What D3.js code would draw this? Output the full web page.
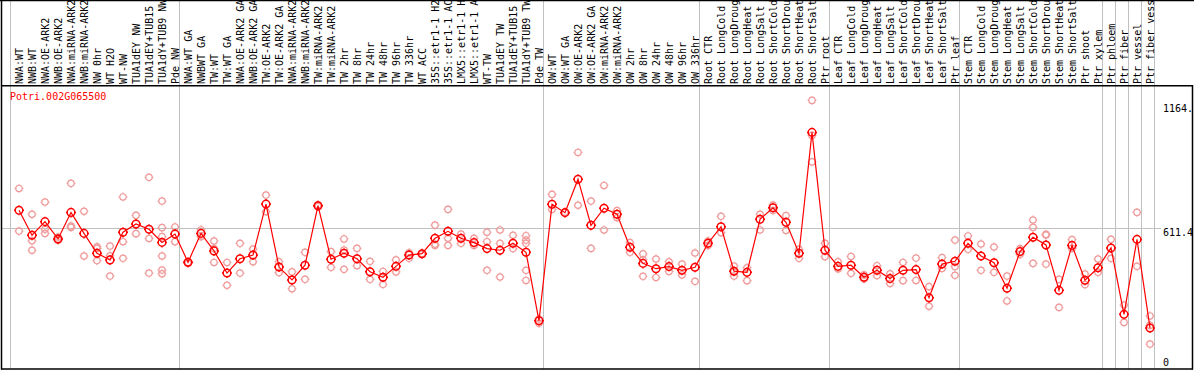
<!DOCTYPE html>
<html>
<head>
<meta charset="utf-8">
<script src="https://cdn.jsdelivr.net/npm/d3@7"></script>
<style>
  html, body { margin: 0; padding: 0; background: #fff; }
  svg { display: block; }
  text { font-family: "DejaVu Sans Mono", monospace; font-size: 10px; }
</style>
</head>
<body>
<div id="chart"></div>
<script>
'use strict';

// ---------- data ---------- //
var gene = 'Potri.002G065500';

var samples = [
  'NWA:WT', 'NWB:WT', 'NWA:OE-ARK2', 'NWB:OE-ARK2', 'NWA:miRNA-ARK2', 'NWB:miRNA-ARK2',
  'NW 0hr', 'WT H2O', 'WT-NW', 'TUA1dEY NW', 'TUA1dEY+TUB15 NW', 'TUA1dY+TUB9 NW', 'Pde NW',
  'NWA:WT GA', 'NWBWT GA', 'TW:WT', 'TW:WT GA', 'NWA:OE-ARK2 GA', 'NWB:OE-ARK2 GA',
  'TW:OE-ARK2', 'TW:OE-ARK2 GA', 'NWA:miRNA-ARK2 GA', 'NWB:miRNA-ARK2 GA', 'TW:miRNA-ARK2',
  'TW:miRNA-ARK2 GA', 'TW 2hr', 'TW 8hr', 'TW 24hr', 'TW 48hr', 'TW 96hr', 'TW 336hr', 'WT ACC',
  '35S::etr1-1 H2O', '35S::etr1-1 ACC', 'LMX5::etr1-1 H2O', 'LMX5::etr1-1 ACC', 'WT-TW',
  'TUA1dEY TW', 'TUA1dEY+TUB15 TW', 'TUA1dY+TUB9 TW', 'Pde TW',
  'OW:WT', 'OW:WT GA', 'OW:OE-ARK2', 'OW:OE-ARK2 GA', 'OW:miRNA-ARK2', 'OW:miRNA-ARK2 GA',
  'OW 2hr', 'OW 8hr', 'OW 24hr', 'OW 48hr', 'OW 96hr', 'OW 336hr',
  'Root CTR', 'Root LongCold', 'Root LongDrought', 'Root LongHeat', 'Root LongSalt',
  'Root ShortCold', 'Root ShortDrought', 'Root ShortHeat', 'Root ShortSalt', 'Ptr root',
  'Leaf CTR', 'Leaf LongCold', 'Leaf LongDrought', 'Leaf LongHeat', 'Leaf LongSalt',
  'Leaf ShortCold', 'Leaf ShortDrought', 'Leaf ShortHeat', 'Leaf ShortSalt', 'Ptr leaf',
  'Stem CTR', 'Stem LongCold', 'Stem LongDrought', 'Stem LongHeat', 'Stem LongSalt',
  'Stem ShortCold', 'Stem ShortDrought', 'Stem ShortHeat', 'Stem ShortSalt', 'Ptr shoot',
  'Ptr xylem', 'Ptr phloem', 'Ptr fiber', 'Ptr vessel', 'Ptr fiber vessel'
];

var means = [
  688, 580, 639, 564, 679, 588, 502, 473, 593, 629, 606, 549, 585,
  463, 588, 512, 416, 478, 494, 715, 442, 386, 450, 708, 476, 502, 478, 422, 398, 445,
  494, 500, 567, 597, 567, 548, 522, 515, 545, 506, 209,
  714, 678, 823, 623, 697, 671, 528, 458, 435, 444, 428, 441,
  545, 617, 424, 419, 649, 699, 636, 502, 1026, 515,
  445, 450, 398, 428, 392, 428, 431, 309, 455, 467,
  545, 490, 461, 350, 509, 571, 538, 341, 536, 385, 439,
  525, 237, 562, 178
];

var replicates = [
  [783, 598], [671, 556, 515], [724, 606, 588], [572, 558, 562], [805, 620, 614],
  [684, 490], [530, 523, 470], [533, 491, 403], [746, 552, 480], [666, 587],
  [831, 566, 416], [728, 613, 574, 490, 429, 413], [616, 552],
  [462, 458], [603, 574], [555, 522, 462], [462, 363], [545, 416], [520, 465],
  [754, 682], [465, 418], [421, 348], [506, 389], [708, 712, 704], [509, 441],
  [564, 516, 432], [523, 448], [467, 389], [423, 367], [473, 421], [504, 480],
  [500, 497], [624, 536, 541], [692, 567, 536], [585, 545], [567, 536],
  [593, 552, 428], [603, 545, 399], [580, 522], [578, 559, 545, 428, 384], [217, 198],
  [757, 692], [678, 680], [939, 710], [728, 523], [796, 603], [687, 656],
  [548, 506], [499, 473, 402], [477, 397], [465, 423], [455, 408], [503, 380],
  [535, 555], [662, 591], [446, 423, 403], [439, 383], [671, 603], [711, 687],
  [665, 601], [519, 480], [1164.6, 1013, 898], [545, 487],
  [465, 434], [488, 415], [408, 390], [448, 405], [413, 371], [462, 383],
  [481, 384], [357, 272], [483, 436], [559, 444, 406],
  [577, 519], [542, 428], [529, 419], [403, 295], [522, 496], [646, 614, 458],
  [584, 581, 455], [389, 267], [561, 523], [412, 366], [477, 419],
  [562, 480], [277, 202], [679, 445], [230, 189, 108]
];

// index where each sample group starts (vertical separators)
var groupStarts = [0, 13, 41, 53, 63, 73, 84, 85, 86, 87, 88];

var yMax = 1222.8;
var yTicks = [1164.6, 611.4, 0];
var yTickLabels = ['1164.', '611.4', '0'];

// ---------- construct the chart ---------- //
var width = 1194;
var height = 370;

var svg = d3.select('#chart').append('svg')
  .attr('width', width)
  .attr('height', height);

var x = d3.scaleBand()
  .domain(d3.range(samples.length))
  .range([12.5, 12.5 + 13 * samples.length]);

var edge = d3.scaleLinear()
  .domain([0, samples.length])
  .range([x.range()[0] - 2, x.range()[1] - 2]);

var y = d3.scaleLinear()
  .domain([0, yMax])
  .range([369, 87]);

function cx(i) { return x(i) + x.bandwidth() / 2; }

// vertical separators (run through the label area too)
svg.append('g').selectAll('line').data(groupStarts).enter().append('line')
  .attr('x1', function (d) { return edge(d); })
  .attr('x2', function (d) { return edge(d); })
  .attr('y1', 0)
  .attr('y2', 369)
  .attr('stroke', '#c0c0c0')
  .attr('stroke-width', 1);

// mid gridline
svg.append('line')
  .attr('x1', 1).attr('x2', 1161)
  .attr('y1', Math.round(y(611.4)) + 0.5)
  .attr('y2', Math.round(y(611.4)) + 0.5)
  .attr('stroke', '#c0c0c0');

// frame
var frame = svg.append('g').attr('stroke', '#000').attr('stroke-width', 1.5);
frame.append('line').attr('x1', 1.5).attr('x2', 1.5).attr('y1', 0).attr('y2', 369.5);
frame.append('line').attr('x1', 0).attr('x2', width).attr('y1', 0.5).attr('y2', 0.5);
frame.append('line').attr('x1', 1).attr('x2', 1193).attr('y1', 85.75).attr('y2', 85.75);
frame.append('line').attr('x1', 1).attr('x2', 1193).attr('y1', 369).attr('y2', 369);
frame.append('line').attr('x1', 1192.5).attr('x2', 1192.5).attr('y1', 85).attr('y2', 369.5);

// sample labels
svg.append('g').selectAll('text').data(samples).enter().append('text')
  .attr('transform', function (d, i) { return 'translate(' + (cx(i) + 3.5) + ',84) rotate(-90)'; })
  .attr('fill', '#000')
  .text(function (d) { return d; });

// gene name
svg.append('text')
  .attr('x', 10)
  .attr('y', 100)
  .attr('fill', '#ff0000')
  .text(gene);

// right axis
var axis = d3.axisRight(y)
  .tickValues(yTicks)
  .tickSize(0)
  .tickPadding(0)
  .tickFormat(function (d, i) { return yTickLabels[i]; });

var gAxis = svg.append('g')
  .attr('transform', 'translate(1163,0)')
  .call(axis);
gAxis.select('.domain').remove();
gAxis.selectAll('text')
  .attr('fill', '#000')
  .style('font-family', '"DejaVu Sans Mono", monospace')
  .style('font-size', '10px')
  .attr('dy', function (d) { return d === 0 ? '-0.35em' : (d === 611.4 ? '0.75em' : '1.1em'); });

// circle marker with little ticks on the outside
function marker(r) {
  var t = 1.2;
  return 'M' + r + ',0A' + r + ',' + r + ' 0 1,1 ' + (-r) + ',0A' + r + ',' + r + ' 0 1,1 ' + r + ',0' +
    'M0,' + (-r - t) + 'V' + (-r) +
    'M0,' + r + 'V' + (r + t) +
    'M' + (-r - t) + ',0H' + (-r) +
    'M' + r + ',0H' + (r + t);
}

// replicates
var reps = [];
replicates.forEach(function (arr, i) {
  arr.forEach(function (v) { reps.push({ i: i, v: v }); });
});

svg.append('g').selectAll('path').data(reps).enter().append('path')
  .attr('transform', function (d) { return 'translate(' + cx(d.i) + ',' + y(d.v) + ')'; })
  .attr('d', marker(3.2))
  .attr('fill', 'none')
  .attr('stroke', '#ef9a9a')
  .attr('stroke-width', 1.2);

// mean line
var line = d3.line()
  .x(function (d, i) { return cx(i); })
  .y(function (d) { return y(d); });

svg.append('path')
  .datum(means)
  .attr('d', line)
  .attr('fill', 'none')
  .attr('stroke', '#ff0000')
  .attr('stroke-width', 1.2);

svg.append('g').selectAll('path').data(means).enter().append('path')
  .attr('transform', function (d, i) { return 'translate(' + cx(i) + ',' + y(d) + ')'; })
  .attr('d', marker(3.8))
  .attr('fill', 'none')
  .attr('stroke', '#ff0000')
  .attr('stroke-width', 1.5);
</script>
</body>
</html>
